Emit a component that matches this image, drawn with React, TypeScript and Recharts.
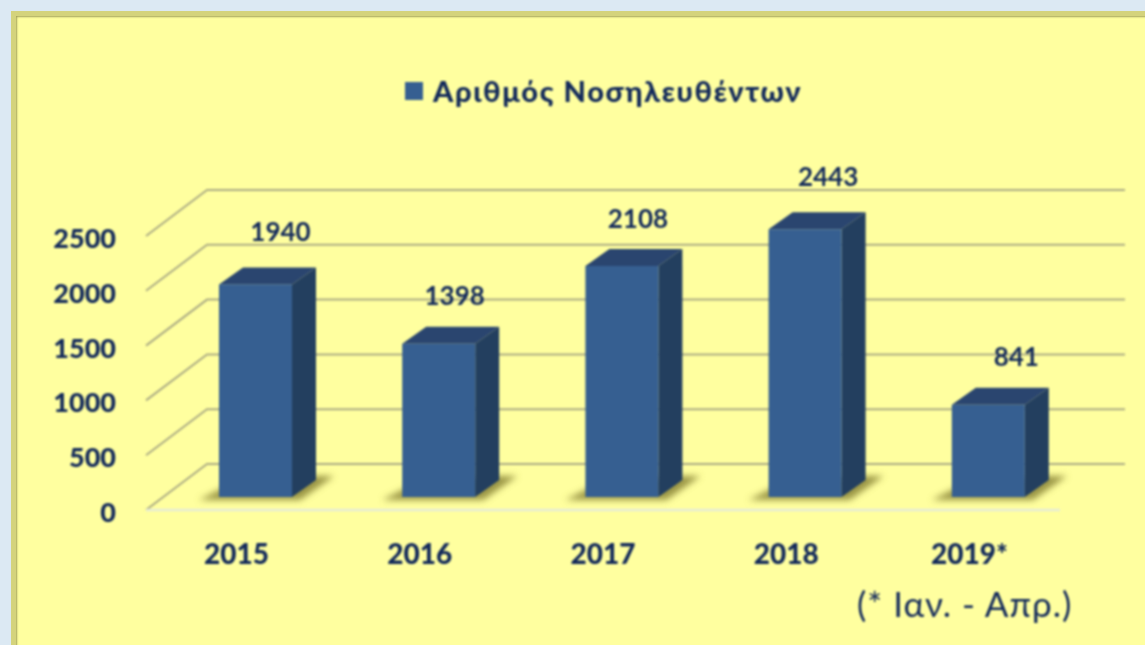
import { BarChart, Bar, XAxis, YAxis, CartesianGrid, Legend, LabelList } from "recharts"

const years = ["2015", "2016", "2017", "2018", "2019*"]
const patients = [1940, 1398, 2108, 2443, 841]
const yTicks = [0, 500, 1000, 1500, 2000, 2500]

const chartData = years.map((year, i) => ({ year, patients: patients[i] }))

// the labels were placed by hand in the original, so they sit a bit unevenly
const labelNudge = [
  { dx: 25, dy: -50 },
  { dx: 16, dy: -45 },
  { dx: 16, dy: -45 },
  { dx: 23, dy: -50 },
  { dx: 28, dy: -45 },
]

const FONT = "Lato, 'Open Sans', sans-serif"
const TEXT = "#12295a"
const GRID = "#acac84"
const DEPTH_X = 24
const DEPTH_Y = 17

const GridLine = ({ y1, index }: any) => {
  const frontY = y1 + 13
  const backY = y1 - 33
  return (
    <g key={index}>
      <polyline points={`146,${frontY} 207,${backY} 1125,${backY}`} fill="none" stroke={GRID} strokeWidth={2} />
      {Math.abs(y1 - 497) < 1 && <line x1={146} x2={1060} y1={frontY} y2={frontY} stroke="#e6ecd6" strokeWidth={2.5} />}
    </g>
  )
}

const Box = ({ x, y, width, height }: any) => {
  const right = x + width
  const bottom = y + height
  return (
    <g>
      <polygon
        points={`${x - 20},${bottom + 3} ${right + 8},${bottom + 3} ${right + 42},${bottom - 21} ${right + 10},${bottom - 21} ${x + 10},${bottom - 12}`}
        fill="#9a9545"
        filter="url(#floorShadow)"
      />
      <polygon
        points={`${x},${y} ${x + DEPTH_X},${y - DEPTH_Y} ${right + DEPTH_X},${y - DEPTH_Y} ${right},${y}`}
        fill="#2a456f"
      />
      <polygon
        points={`${right},${y} ${right + DEPTH_X},${y - DEPTH_Y} ${right + DEPTH_X},${bottom - DEPTH_Y} ${right},${bottom}`}
        fill="#233f5f"
      />
      <rect x={x} y={y} width={width} height={height} fill="#365f91" />
    </g>
  )
}

const BarValue = ({ x, y, width, value, index }: any) => (
  <text
    x={x + width / 2 + labelNudge[index].dx}
    y={y + labelNudge[index].dy}
    textAnchor="middle"
    dominantBaseline="middle"
    fontFamily={FONT}
    fontWeight={700}
    fontSize={26}
    fill={TEXT}
  >
    {value}
  </text>
)

const YTick = ({ x, y, payload }: any) => (
  <text x={x + 6} y={y + 18} textAnchor="end" dominantBaseline="middle" fontFamily={FONT} fontWeight={900} fontSize={27} fill={TEXT}>
    {payload.value}
  </text>
)

const XTick = ({ x, y, payload }: any) => (
  <text x={x - 19} y={y + 52} textAnchor="middle" dominantBaseline="middle" fontFamily={FONT} fontWeight={900} fontSize={28} fill={TEXT}>
    {payload.value}
  </text>
)

const LegendBox = ({ payload }: any) => (
  <div style={{ display: "flex", alignItems: "center", fontFamily: FONT, fontWeight: 900, fontSize: 29, letterSpacing: 1.6, color: TEXT }}>
    <span style={{ width: 18, height: 18, background: "#365f91", marginRight: 10 }} />
    {payload?.[0]?.value}
  </div>
)

export default function App() {
  return (
    <div style={{ position: "absolute", left: 0, top: 0, width: 1145, height: 645, overflow: "hidden", background: "#dce9f3" }}>
      <div
        style={{
          position: "absolute",
          left: 11,
          top: 11,
          width: 1145,
          height: 645,
          background: "#ffff9f",
          border: "5px solid #d4d37c",
          boxShadow: "inset 1px 1px 2px #a3a25a",
          boxSizing: "border-box",
        }}
      />
      <div style={{ position: "absolute", left: 0, top: 0, filter: "blur(0.8px)" }}>
        <svg width={0} height={0} style={{ position: "absolute" }}>
          <defs>
            <filter id="floorShadow" x="-30%" y="-60%" width="160%" height="220%">
              <feGaussianBlur stdDeviation="3" />
            </filter>
          </defs>
        </svg>
        <BarChart
          width={1145}
          height={645}
          data={chartData}
          margin={{ top: 223, right: 65, left: 104, bottom: 108 }}
        >
          <CartesianGrid vertical={false} horizontal={GridLine} />
          <XAxis dataKey="year" height={40} axisLine={false} tickLine={false} tick={XTick} interval={0} />
          <YAxis width={60} domain={[0, 2500]} ticks={yTicks} axisLine={false} tickLine={false} tickMargin={48} tick={YTick} />
          <Legend
            layout="horizontal"
            verticalAlign="middle"
            content={LegendBox}
            wrapperStyle={{ position: "absolute", left: 405, top: 73, width: "auto" }}
          />
          <Bar dataKey="patients" name="Αριθμός Νοσηλευθέντων" barSize={73} shape={Box} isAnimationActive={false}>
            <LabelList dataKey="patients" content={BarValue} />
          </Bar>
        </BarChart>
        <div style={{ position: "absolute", left: 857, top: 582, fontFamily: FONT, fontSize: 35, letterSpacing: 1, color: TEXT, whiteSpace: "nowrap" }}>
          (* Ιαν. - Απρ.)
        </div>
      </div>
    </div>
  )
}
